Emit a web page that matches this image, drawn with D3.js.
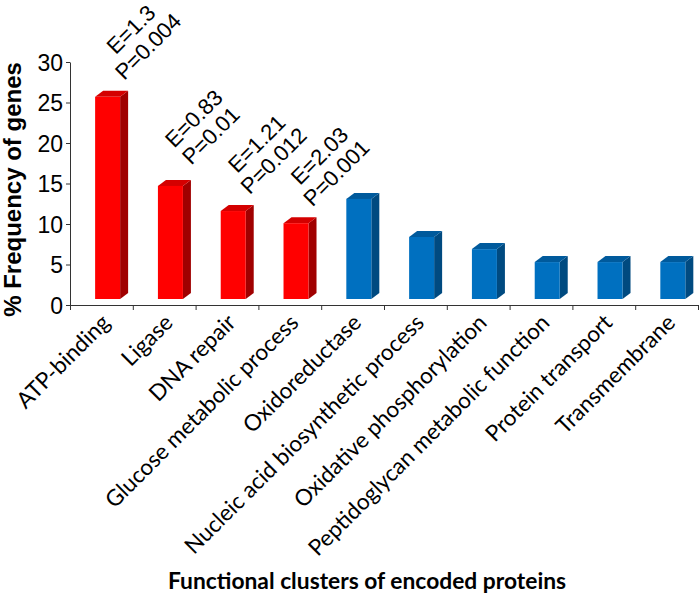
<!DOCTYPE html>
<html>
<head>
<meta charset="utf-8">
<script src="https://cdn.jsdelivr.net/npm/d3@7"></script>
<style>
  body { margin: 0; background: #fff; }
  svg { display: block; }
</style>
</head>
<body>
<svg id="chart" width="700" height="598"></svg>
<script>
const categories = [
  'ATP-binding', 'Ligase', 'DNA repair', 'Glucose metabolic process', 'Oxidoreductase',
  'Nucleic acid biosynthetic process', 'Oxidative phosphorylation',
  'Peptidoglycan metabolic function', 'Protein transport', 'Transmembrane'
];
const values = [25.7, 14.7, 11.6, 10.1, 13.1, 8.4, 6.9, 5.3, 5.3, 5.3];
// first four clusters are the enriched ones (red, with E / P labels)
const enriched = [true, true, true, true, false, false, false, false, false, false];
const eLabels = ['E=1.3', 'E=0.83', 'E=1.21', 'E=2.03'];
const pLabels = ['P=0.004', 'P=0.01', 'P=0.012', 'P=0.001'];
const yTicks = [0, 5, 10, 15, 20, 25, 30];

const COLORS = {
  red:  { front: '#ff0000', top: '#d40000', side: '#a00000' },
  blue: { front: '#0070c0', top: '#005a9c', side: '#004a80' }
};

const svg = d3.select('#chart');
const mLeft = 70, mRight = 698, mTop = 62, mBottom = 305;
const depthX = 8, depthY = 6, floorGap = 6, barW = 25;

const x = d3.scaleBand().domain(categories).range([mLeft, mRight]);
const y = d3.scaleLinear().domain([0, 30]).range([mBottom, mTop]);

// bars (pseudo 3D: front, top and side faces)
const bars = svg.append('g');
categories.forEach((c, i) => {
  const col = enriched[i] ? COLORS.red : COLORS.blue;
  const fx = x(c) + x.bandwidth() * 0.4;
  const yt = y(values[i]);
  const yb = y(0) - floorGap;
  bars.append('polygon')
    .attr('points', [[fx + barW, yt], [fx + barW + depthX, yt - depthY], [fx + barW + depthX, yb - depthY], [fx + barW, yb]].join(' '))
    .attr('fill', col.side);
  bars.append('polygon')
    .attr('points', [[fx, yt], [fx + depthX, yt - depthY], [fx + barW + depthX, yt - depthY], [fx + barW, yt]].join(' '))
    .attr('fill', col.top);
  bars.append('rect')
    .attr('x', fx).attr('y', yt)
    .attr('width', barW).attr('height', yb - yt)
    .attr('fill', col.front);
});

// y axis
const yAxis = svg.append('g')
  .attr('transform', `translate(${mLeft},0)`)
  .call(d3.axisLeft(y).tickValues(yTicks).tickSize(4).tickSizeOuter(0).tickPadding(3));
yAxis.selectAll('text')
  .attr('font-family', 'Liberation Sans, Arial, sans-serif')
  .attr('font-size', 23)
  .attr('fill', '#000')
  .attr('dy', '0.36em');
yAxis.selectAll('line, path').attr('stroke', '#333');

// x axis: ticks at band boundaries
const xb = d3.scaleLinear().domain([0, categories.length]).range([mLeft, mRight]);
const xAxis = svg.append('g')
  .attr('transform', `translate(0,${mBottom})`)
  .call(d3.axisBottom(xb).ticks(categories.length).tickSize(5).tickSizeOuter(0).tickFormat(''));
xAxis.selectAll('line, path').attr('stroke', '#333');

// category labels
svg.append('g').selectAll('text')
  .data(categories)
  .join('text')
  .attr('transform', d => `translate(${x(d) + x.bandwidth() / 2 + 10},${mBottom + 19}) rotate(-45)`)
  .attr('text-anchor', 'end')
  .attr('font-family', 'Lato, sans-serif')
  .attr('font-size', 22.5)
  .attr('fill', '#000')
  .text(d => d);

// E / P annotations on enriched bars
const ann = svg.append('g')
  .attr('font-family', 'Liberation Sans, Arial, sans-serif')
  .attr('font-size', 22)
  .attr('text-anchor', 'middle')
  .attr('fill', '#000');
eLabels.forEach((e, i) => {
  const c = categories[i];
  const px = x(c) + x.bandwidth() / 2 + 52;
  const py = y(values[i]) - 45;
  ann.append('text')
    .attr('transform', `translate(${px - 17},${py - 17}) rotate(-45)`)
    .text(e);
  ann.append('text')
    .attr('transform', `translate(${px},${py}) rotate(-45)`)
    .text(pLabels[i]);
});

// axis titles
svg.append('text')
  .attr('transform', `translate(21,${(mBottom + 70) / 2 + 2}) rotate(-90)`)
  .attr('text-anchor', 'middle')
  .attr('font-family', 'Liberation Sans, Arial, sans-serif')
  .attr('font-weight', 'bold')
  .attr('font-size', 24)
  .text('% Frequency of genes');

svg.append('text')
  .attr('x', 367).attr('y', 589)
  .attr('text-anchor', 'middle')
  .attr('font-family', 'Lato, sans-serif')
  .attr('font-weight', 'bold')
  .attr('font-size', 22.8)
  .text('Functional clusters of encoded proteins');
</script>
</body>
</html>
